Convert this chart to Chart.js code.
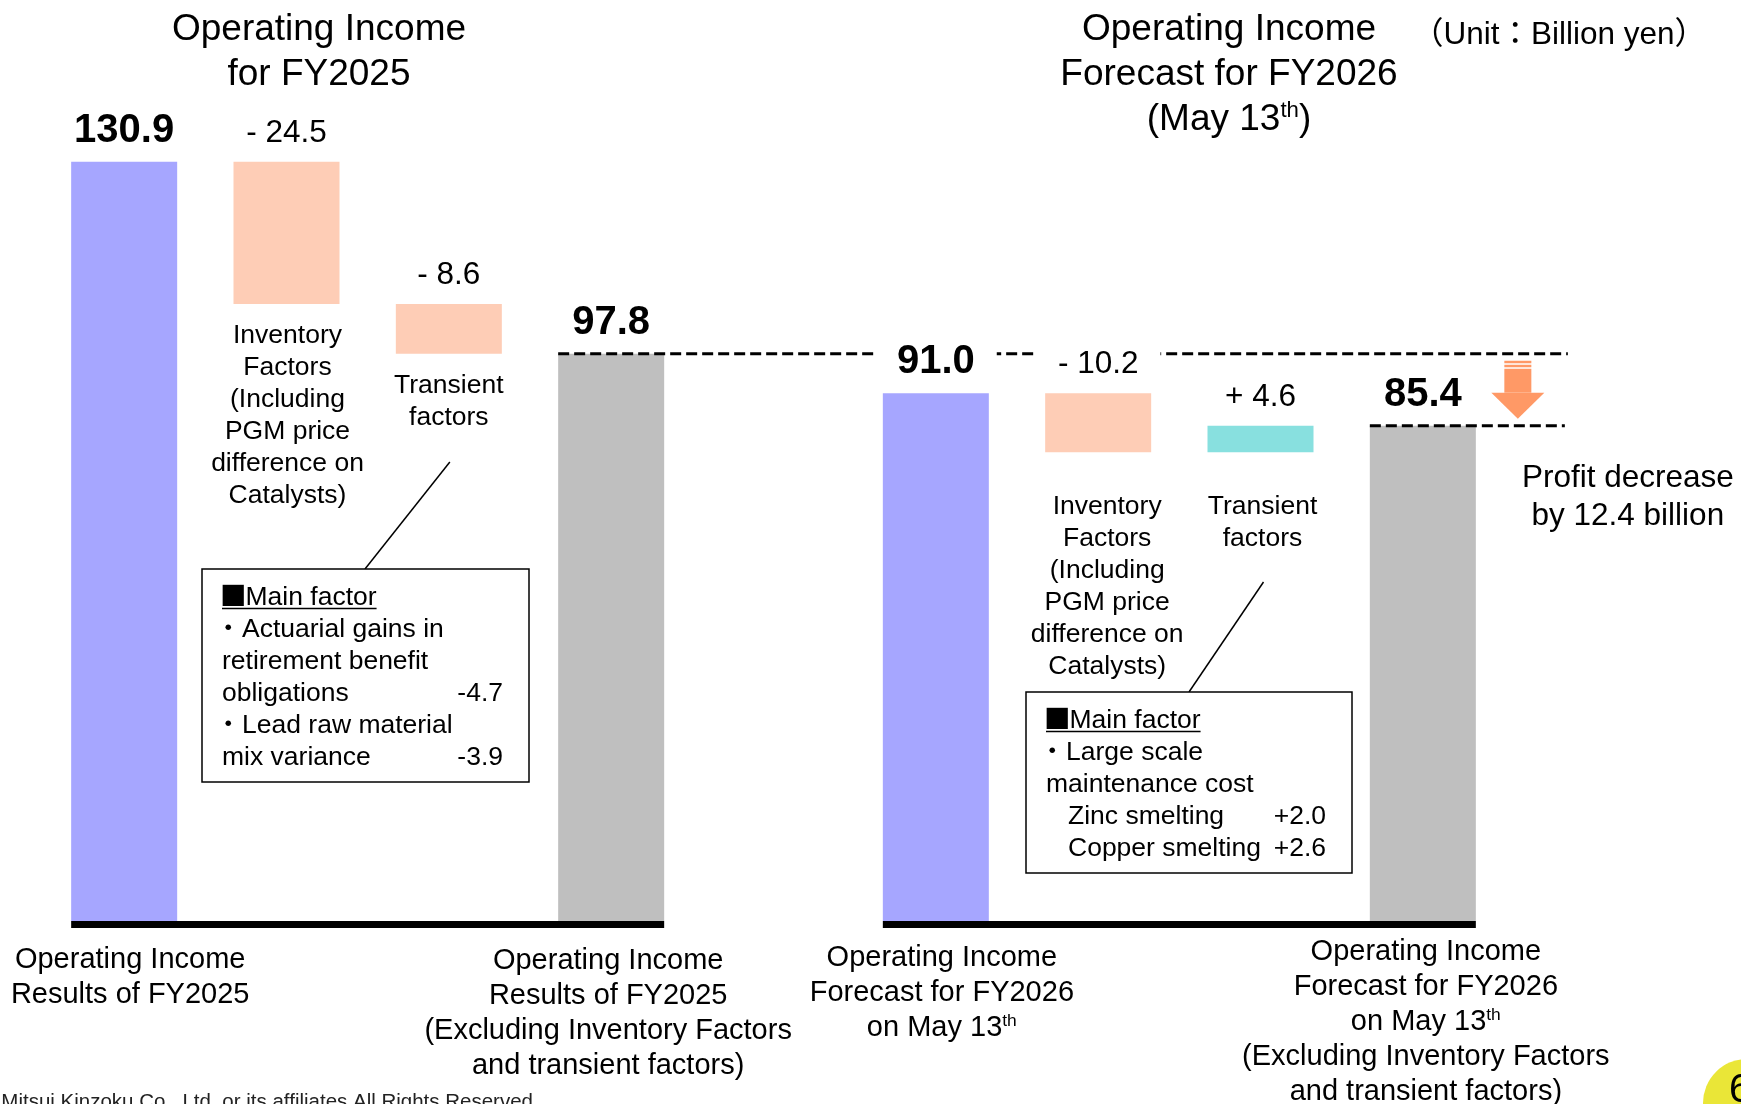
<!DOCTYPE html>
<html lang="en">
<head>
  <meta charset="UTF-8">
  <title>Operating Income Waterfall</title>
  <script src="https://cdn.jsdelivr.net/npm/chart.js@4.4.1/dist/chart.umd.min.js"></script>
  <style>
    html, body { margin: 0; padding: 0; background: #fff; }
    #wrap { width: 1741px; height: 1104px; position: relative; }
  </style>
</head>
<body>
  <div id="wrap"><canvas id="chart"></canvas></div>

  <script>
    // ---- data (Billion yen) ----
    const categories = ['FY2025 results', 'Inventory factors', 'Transient factors', 'FY2025 excl.', '',
                        'FY2026 forecast', 'Inventory factors', 'Transient factors', 'FY2026 excl.'];
    const values = [130.9, -24.5, -8.6, 97.8, null, 91.0, -10.2, 4.6, 85.4];
    const kinds = ['start', 'delta', 'delta', 'end', null, 'start', 'delta', 'delta', 'end'];

    const inventoryText = ['Inventory', 'Factors', '(Including', 'PGM price', 'difference on', 'Catalysts)'];
    const transientText = ['Transient', 'factors'];
    const factorLabels = [null, inventoryText, transientText, null, null, null, inventoryText, transientText, null];

    const bottomLabels = [
      ['Operating Income', 'Results of FY2025'],
      null, null,
      ['Operating Income', 'Results of FY2025', '(Excluding Inventory Factors', 'and transient factors)'],
      null,
      ['Operating Income', 'Forecast for FY2026', 'on May 13{th}'],
      null, null,
      ['Operating Income', 'Forecast for FY2026', 'on May 13{th}', '(Excluding Inventory Factors', 'and transient factors)']
    ];

    const titleLeft = ['Operating Income', 'for FY2025'];
    const titleRight = ['Operating Income', 'Forecast for FY2026', '(May 13{th})'];
    const unitText = '（Unit：Billion yen）';

    const noteLeft = [['・Actuarial gains in', ''], ['retirement benefit', ''], ['obligations', '-4.7'],
                      ['・Lead raw material', ''], ['mix variance', '-3.9']];
    const noteRight = [['・Large scale', ''], ['maintenance cost', ''], ['　Zinc smelting', '+2.0'],
                       ['　Copper smelting', '+2.6']];

    const FONT = '"Liberation Sans", Arial, "Noto Sans CJK JP", sans-serif';
    const CJK = '"Noto Sans CJK JP", sans-serif';

    // floating bars for the waterfall
    const floating = [];
    let running = 0;
    values.forEach((v, i) => {
      if (v === null) { floating.push(null); return; }
      if (kinds[i] === 'delta') { floating.push([running, running + v]); running += v; }
      else { floating.push([0, v]); running = v; }
    });
    const colors = values.map((v, i) => kinds[i] === 'start' ? '#A6A6FF'
      : kinds[i] === 'end' ? '#BFBFBF' : (v < 0 ? '#FECDB6' : '#88E0DF'));

    // text with {superscript} parts
    function drawRich(ctx, text, x, y, size, align, weight) {
      const segs = text.split(/(\{[^}]*\})/).filter(s => s.length)
        .map(p => p[0] === '{' ? { t: p.slice(1, -1), sup: true } : { t: p, sup: false });
      const fontFor = s => `${weight || 'normal'} ${s.sup ? size * 0.6 : size}px ${FONT}`;
      let total = 0;
      segs.forEach(s => { ctx.font = fontFor(s); s.w = ctx.measureText(s.t).width; total += s.w; });
      let cx = align === 'center' ? x - total / 2 : align === 'right' ? x - total : x;
      ctx.textAlign = 'left';
      ctx.textBaseline = 'alphabetic';
      segs.forEach(s => {
        ctx.font = fontFor(s);
        ctx.fillText(s.t, cx, s.sup ? y - size * 0.36 : y);
        cx += s.w;
      });
      return total;
    }

    function valueText(i) {
      const v = values[i];
      if (kinds[i] !== 'delta') return v.toFixed(1);
      return (v < 0 ? '- ' : '+ ') + Math.abs(v).toFixed(1);
    }

    function drawNote(ctx, box, anchor, lines) {
      // connector
      ctx.strokeStyle = '#000';
      ctx.lineWidth = 1.5;
      ctx.beginPath();
      ctx.moveTo(anchor.x1, anchor.y1);
      ctx.lineTo(anchor.x2, box.y);
      ctx.stroke();
      ctx.fillStyle = '#fff';
      ctx.fillRect(box.x, box.y, box.w, box.h);
      ctx.strokeRect(box.x, box.y, box.w, box.h);

      ctx.fillStyle = '#000';
      const size = 26.5;
      const tx = box.x + 20;
      let y = box.y + 36;
      ctx.textAlign = 'left';
      ctx.textBaseline = 'alphabetic';
      ctx.font = `${size}px ${CJK}`;
      ctx.fillText('■', tx - 2, y);
      const sq = ctx.measureText('■').width;
      ctx.font = `${size}px ${FONT}`;
      ctx.fillText('Main factor', tx - 2 + sq - 1, y);
      const endX = tx - 2 + sq - 1 + ctx.measureText('Main factor').width;
      ctx.lineWidth = 1.5;
      ctx.beginPath();
      ctx.moveTo(tx, y + 3.5);
      ctx.lineTo(endX, y + 3.5);
      ctx.stroke();

      lines.forEach(([txt, val]) => {
        y += 32;
        ctx.textAlign = 'left';
        if (txt[0] === '・') {
          ctx.font = `${size}px ${CJK}`;
          ctx.fillText('・', tx - 7, y);
          ctx.font = `${size}px ${FONT}`;
          ctx.fillText(txt.slice(1), tx + 20, y);
        } else if (txt[0] === '　') {
          ctx.fillText(txt.slice(1), tx + 22, y);
        } else {
          ctx.fillText(txt, tx, y);
        }
        if (val) {
          ctx.textAlign = 'right';
          ctx.fillText(val, box.x + box.w - 26, y);
        }
      });
    }

    const decor = {
      id: 'decor',
      afterDatasetsDraw(chart) {
        const ctx = chart.ctx;
        const bars = chart.getDatasetMeta(0).data;
        const ys = chart.scales.y;
        const y0 = ys.getPixelForValue(0);
        const left = i => bars[i].x - bars[i].width / 2;
        const right = i => bars[i].x + bars[i].width / 2;
        const top = i => Math.min(bars[i].y, bars[i].base);
        const bottom = i => Math.max(bars[i].y, bars[i].base);
        ctx.save();

        // thick base lines under each group
        ctx.fillStyle = '#000';
        ctx.fillRect(left(0), y0, right(3) - left(0), 7);
        ctx.fillRect(left(5), y0, right(8) - left(5), 7);

        // dashed reference lines
        ctx.strokeStyle = '#000';
        ctx.lineWidth = 3;
        ctx.setLineDash([11, 5]);
        const yA = ys.getPixelForValue(values[3]);
        const yB = ys.getPixelForValue(values[8]);
        ctx.beginPath();
        ctx.moveTo(left(3), yA); ctx.lineTo(right(8) + 92, yA);
        ctx.moveTo(left(8), yB); ctx.lineTo(right(8) + 89, yB);
        ctx.stroke();
        ctx.setLineDash([]);

        // value labels on white boxes
        values.forEach((v, i) => {
          if (v === null) return;
          const bold = kinds[i] !== 'delta';
          const size = bold ? 40 : 31.5;
          const txt = valueText(i);
          const by = top(i) - 20;
          ctx.font = `${bold ? 'bold ' : ''}${size}px ${FONT}`;
          const w = ctx.measureText(txt).width;
          ctx.fillStyle = '#fff';
          ctx.fillRect(bars[i].x - w / 2 - 22, by - size * 0.72 - 12, w + 44, size * 0.72 + 20);
          ctx.fillStyle = '#000';
          ctx.textAlign = 'center';
          ctx.textBaseline = 'alphabetic';
          ctx.fillText(txt, bars[i].x, by);
        });

        // factor labels under delta bars
        ctx.fillStyle = '#000';
        ctx.font = `26.5px ${FONT}`;
        ctx.textAlign = 'center';
        const factorShift = [0, 1, 0, 0, 0, 0, 9, 2, 0];
        factorLabels.forEach((lines, i) => {
          if (!lines) return;
          const start = bottom(i) + (i < 4 ? 39 : 62);
          lines.forEach((t, k) => ctx.fillText(t, bars[i].x + factorShift[i], start + k * 32));
        });

        // category labels under total bars
        const firstLine = [47, 0, 0, 48, 0, 45, 0, 0, 39];
        const shiftX = [6, 0, 0, -3, 0, 6, 0, 0, 3];
        bottomLabels.forEach((lines, i) => {
          if (!lines) return;
          lines.forEach((t, k) => drawRich(ctx, t, bars[i].x + shiftX[i], y0 + firstLine[i] + k * 35, 29, 'center'));
        });

        // decrease arrow
        const ax = right(8) + 42;
        const aTop = yA + 7, aTip = yB - 7;
        ctx.fillStyle = '#FF9966';
        ctx.fillRect(ax - 13.5, aTop, 27, 2.5);
        ctx.fillRect(ax - 13.5, aTop + 4, 27, 2.5);
        ctx.fillRect(ax - 13.5, aTop + 8, 27, aTip - 26 - aTop - 8);
        ctx.beginPath();
        ctx.moveTo(ax - 26.5, aTip - 26);
        ctx.lineTo(ax + 26.5, aTip - 26);
        ctx.lineTo(ax, aTip);
        ctx.closePath();
        ctx.fill();

        ctx.fillStyle = '#000';
        ctx.font = `31.5px ${FONT}`;
        ctx.textAlign = 'center';
        const drop = Math.abs(values[3] - values[8]).toFixed(1);
        ctx.fillText('Profit decrease', right(8) + 152, yB + 61);
        ctx.fillText('by ' + drop + ' billion', right(8) + 152, yB + 99);

        // callout boxes
        drawNote(ctx, { x: 202, y: 569, w: 327, h: 213 }, { x1: bars[2].x + 1, y1: 462, x2: 365 }, noteLeft);
        drawNote(ctx, { x: 1026, y: 692, w: 326, h: 181 }, { x1: bars[7].x + 3, y1: 582, x2: 1189 }, noteRight);

        // titles
        ctx.fillStyle = '#000';
        titleLeft.forEach((t, k) => drawRich(ctx, t, 319, 40 + k * 45, 37, 'center'));
        titleRight.forEach((t, k) => drawRich(ctx, t, 1229, 40 + k * 45, 37, 'center'));
        drawRich(ctx, unitText, 1412, 44, 31.5, 'left');

        // footer and page number
        ctx.fillStyle = '#222';
        ctx.font = `20.5px ${FONT}`;
        ctx.textAlign = 'right';
        ctx.fillText('Mitsui Kinzoku Co., Ltd. or its affiliates All Rights Reserved', 533, 1108);
        ctx.fillStyle = '#EAE637';
        ctx.beginPath();
        ctx.arc(1747, 1103, 44, 0, Math.PI * 2);
        ctx.fill();
        ctx.fillStyle = '#000';
        ctx.font = `40px ${FONT}`;
        ctx.textAlign = 'center';
        ctx.fillText('6', 1740, 1102);

        ctx.restore();
      }
    };

    const chart = new Chart(document.getElementById('chart').getContext('2d'), {
      type: 'bar',
      data: {
        labels: categories,
        datasets: [{
          data: floating,
          backgroundColor: colors,
          borderWidth: 0,
          barPercentage: 0.653,
          categoryPercentage: 1.0
        }]
      },
      options: {
        responsive: true,
        maintainAspectRatio: false,
        animation: false,
        layout: { padding: { left: 43, right: 237, top: 109, bottom: 183 } },
        plugins: { legend: { display: false }, tooltip: { enabled: false } },
        scales: {
          x: { display: false },
          y: { display: false, min: 0, max: 140 }
        }
      },
      plugins: [decor]
    });
  </script>
</body>
</html>
